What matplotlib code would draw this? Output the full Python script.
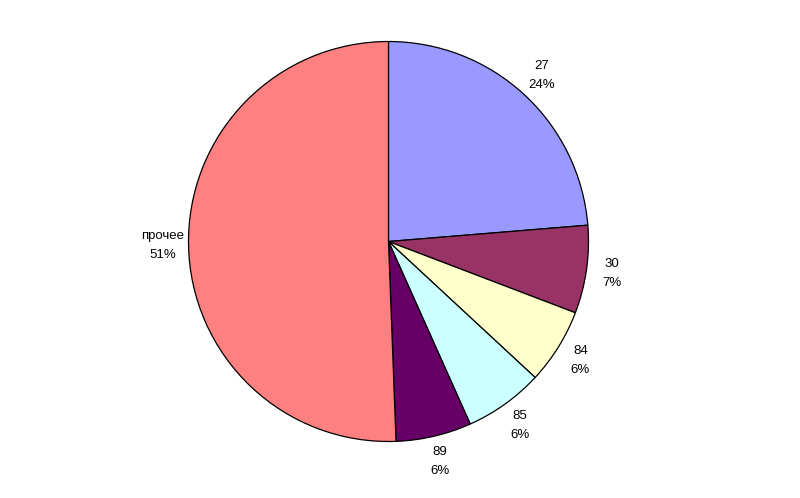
import matplotlib
matplotlib.use("Agg")
import matplotlib.pyplot as plt

# slice data (share of total, %)
names = ["27", "30", "84", "85", "89", "прочее"]
shares = [23.7, 7.1, 6.1, 6.4, 6.1, 50.6]
pct_labels = ["24%", "7%", "6%", "6%", "6%", "51%"]
colors = ["#9999FF", "#993366", "#FFFFCC", "#CCFFFF", "#660066", "#FF8080"]

plt.rcParams['font.family'] = ['Liberation Sans', 'DejaVu Sans']

fig = plt.figure(figsize=(8, 4.98), dpi=100)
ax = fig.add_axes([388.5/800 - 250/800, (498 - 241.5 - 250)/498, 500/800, 500/498])

labels = [n + "\n" + p for n, p in zip(names, pct_labels)]
wedges, texts = ax.pie(shares, colors=colors, labels=labels, startangle=90,
                       counterclock=False, labeldistance=1.13,
                       wedgeprops=dict(edgecolor="black", linewidth=0.9),
                       textprops=dict(fontsize=9.5, ha="center", va="center",
                                      linespacing=1.75))
for t in texts:
    t.set_ha("center")

ax.set_xlim(-1.25, 1.25)
ax.set_ylim(-1.25, 1.25)
ax.set_aspect("equal")
ax.axis("off")

plt.savefig("out.png", dpi=100)
